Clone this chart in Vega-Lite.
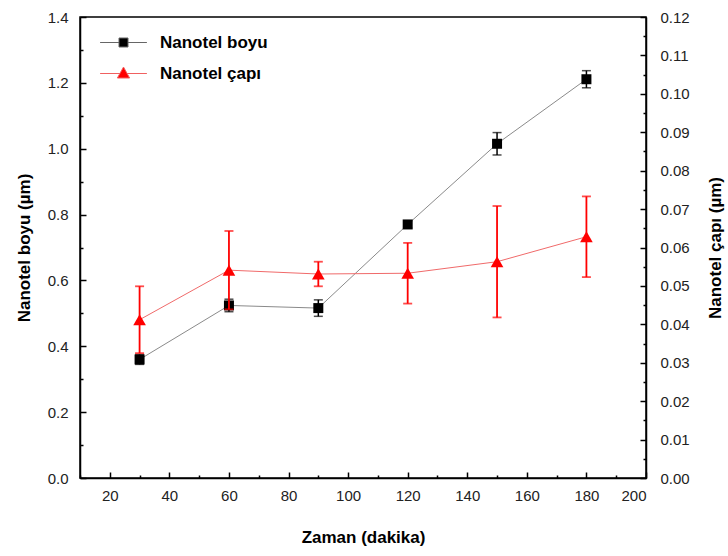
{
  "$schema": "https://vega.github.io/schema/vega-lite/v6.json",
  "autosize": {"type": "none"},
  "padding": {"left": 80, "top": 17, "right": 82, "bottom": 78},
  "width": 566,
  "height": 461,
  "background": "white",
  "config": {
    "view": {"stroke": "black", "strokeWidth": 1.5},
    "font": "Liberation Sans",
    "axis": {
      "domainColor": "black",
      "domainWidth": 1.5,
      "tickColor": "black",
      "tickWidth": 1.5,
      "grid": false,
      "labelFont": "Liberation Sans",
      "labelFontSize": 15,
      "labelColor": "#222",
      "titleFont": "Liberation Sans",
      "titleFontSize": 17,
      "titleFontWeight": "bold",
      "titleColor": "black"
    }
  },
  "data": {
    "values": [
      {"t": 30, "boyu": 0.36, "boyu_err": 0.015, "cap": 0.0412, "cap_err": 0.0087},
      {"t": 60, "boyu": 0.524, "boyu_err": 0.019, "cap": 0.0541, "cap_err": 0.0102},
      {"t": 90, "boyu": 0.516, "boyu_err": 0.025, "cap": 0.0531, "cap_err": 0.0032},
      {"t": 120, "boyu": 0.77, "boyu_err": 0.01, "cap": 0.0533, "cap_err": 0.0079},
      {"t": 150, "boyu": 1.015, "boyu_err": 0.034, "cap": 0.0563, "cap_err": 0.0145},
      {"t": 180, "boyu": 1.211, "boyu_err": 0.026, "cap": 0.0628, "cap_err": 0.0105}
    ]
  },
  "encoding": {
    "x": {
      "field": "t",
      "type": "quantitative",
      "scale": {"domain": [10, 200], "nice": false, "zero": false},
      "axis": {
        "title": "Zaman (dakika)",
        "values": [10, 20, 30, 40, 50, 60, 70, 80, 90, 100, 110, 120, 130, 140, 150, 160, 170, 180, 190, 200],
        "labelExpr": "datum.value % 20 === 0 ? datum.label : ''",
        "tickSize": {"condition": {"test": "datum.value % 20 === 0", "value": -6}, "value": -3},
        "labelPadding": 16,
        "titlePadding": 26
      }
    }
  },
  "layer": [
    {
      "encoding": {
        "y": {
          "field": "boyu",
          "type": "quantitative",
          "scale": {"domain": [0, 1.4], "nice": false},
          "axis": {
            "title": "Nanotel boyu (µm)",
            "orient": "left",
            "values": [0, 0.1, 0.2, 0.3, 0.4, 0.5, 0.6, 0.7, 0.8, 0.9, 1, 1.1, 1.2, 1.3, 1.4],
            "format": ".1f",
            "labelExpr": "round(datum.value * 10) % 2 === 0 ? datum.label : ''",
            "tickSize": {"condition": {"test": "round(datum.value * 10) % 2 === 0", "value": -6}, "value": -3},
            "labelPadding": 18,
            "titlePadding": 14
          }
        }
      },
      "layer": [
        {"mark": {"type": "line", "color": "#8a8a8a", "strokeWidth": 1}},
        {
          "mark": {
            "type": "errorbar",
            "color": "black",
            "rule": {"strokeWidth": 1.5},
            "ticks": {"size": 9, "thickness": 1.5}
          },
          "encoding": {"yError": {"field": "boyu_err"}}
        },
        {
          "mark": {"type": "point", "shape": "square", "filled": true, "size": 100, "opacity": 1},
          "encoding": {
            "color": {
              "datum": "Nanotel boyu",
              "type": "nominal",
              "scale": {"domain": ["Nanotel boyu", "Nanotel çapı"], "range": ["black", "#ff0000"]},
              "legend": {
                "title": null,
                "orient": "none",
                "legendX": 34,
                "legendY": 16,
                "padding": 0,
                "symbolSize": 324,
                "symbolOpacity": 1,
                "symbolStrokeWidth": 1,
                "symbolType": {"expr": "datum.value === 'Nanotel boyu' ? 'M-2.6,0H-0.5M0.5,0H2.6M-0.5,-0.5H0.5V0.5H-0.5Z' : 'M-2.6,0H-0.4M0.4,0H2.6M0,-0.72L0.68,0.5H-0.68Z'"},
                "symbolStrokeColor": {"expr": "datum.value === 'Nanotel boyu' ? '#666666' : '#f06060'"},
                "labelFont": "Liberation Sans",
                "labelFontSize": 17,
                "labelFontWeight": "bold",
                "labelColor": "black",
                "labelOffset": 27,
                "rowPadding": 13
              }
            }
          }
        }
      ]
    },
    {
      "encoding": {
        "y": {
          "field": "cap",
          "type": "quantitative",
          "scale": {"domain": [0, 0.12], "nice": false},
          "axis": {
            "title": "Nanotel çapı (µm)",
            "orient": "right",
            "values": [0, 0.005, 0.01, 0.015, 0.02, 0.025, 0.03, 0.035, 0.04, 0.045, 0.05, 0.055, 0.06, 0.065, 0.07, 0.075, 0.08, 0.085, 0.09, 0.095, 0.1, 0.105, 0.11, 0.115, 0.12],
            "format": ".2f",
            "labelExpr": "round(datum.value * 200) % 2 === 0 ? datum.label : ''",
            "tickSize": {"condition": {"test": "round(datum.value * 200) % 2 === 0", "value": -6}, "value": -3},
            "labelPadding": 20,
            "titlePadding": 35,
            "titleAngle": 270
          }
        }
      },
      "layer": [
        {"mark": {"type": "line", "color": "#f06a6a", "strokeWidth": 1}},
        {
          "mark": {
            "type": "errorbar",
            "color": "#ff0000",
            "rule": {"strokeWidth": 1.8},
            "ticks": {"size": 9, "thickness": 1.8}
          },
          "encoding": {"yError": {"field": "cap_err"}}
        },
        {
          "mark": {"type": "point", "shape": "triangle-up", "filled": true, "size": 160, "opacity": 1},
          "encoding": {
            "color": {"datum": "Nanotel çapı", "type": "nominal"}
          }
        }
      ]
    }
  ],
  "resolve": {"scale": {"y": "independent"}}
}
